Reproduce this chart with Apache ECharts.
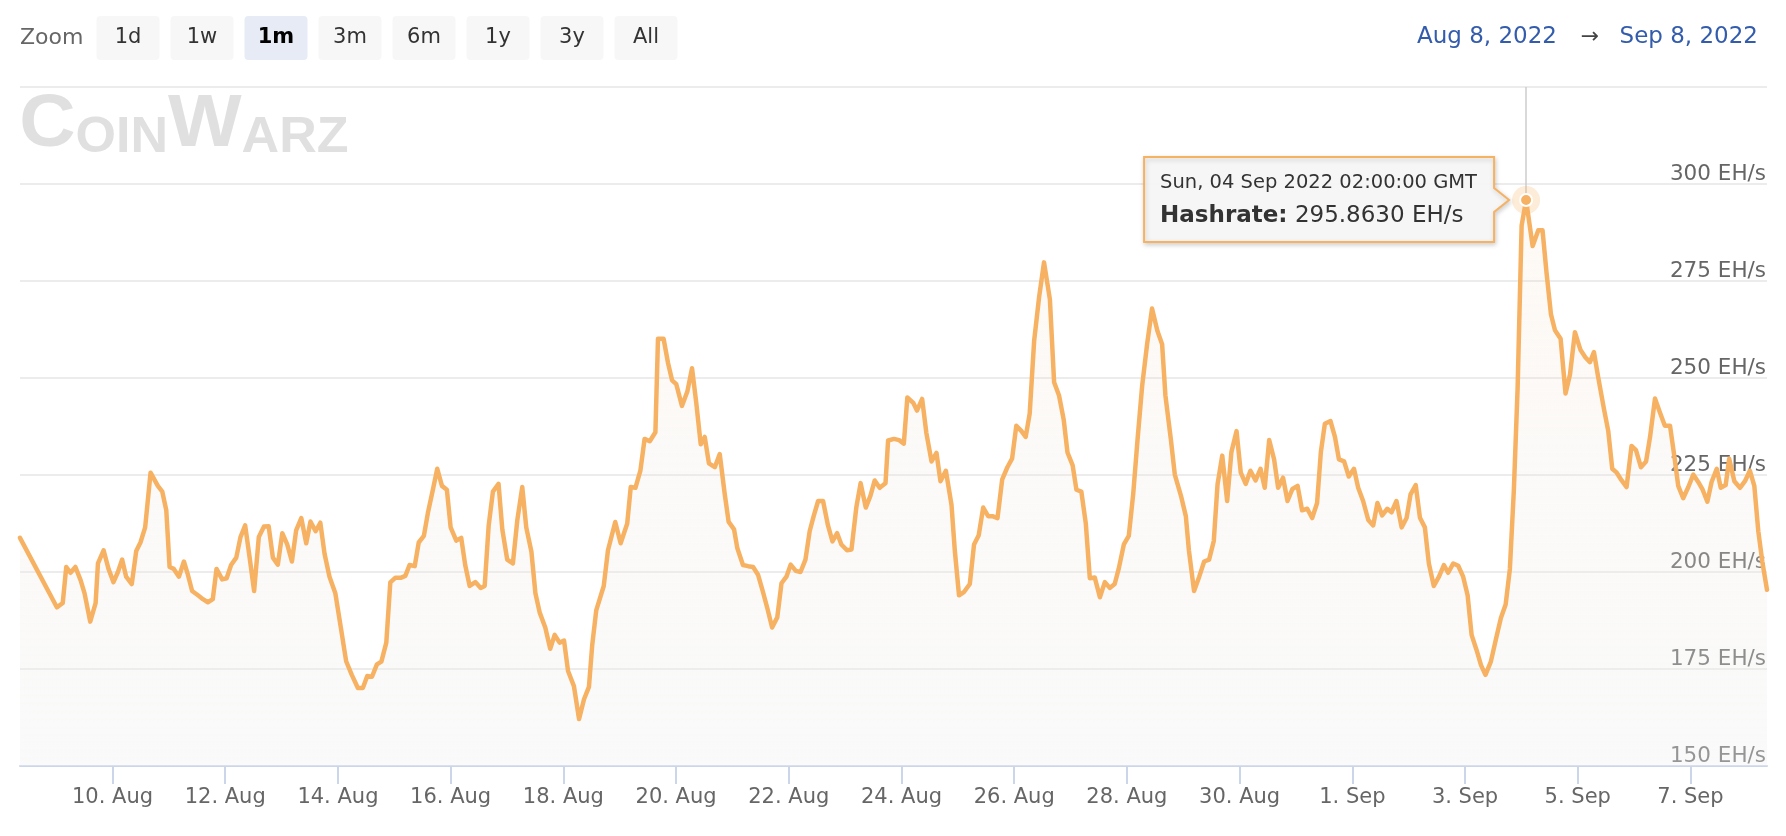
<!DOCTYPE html>
<html>
<head>
<meta charset="utf-8">
<script src="https://cdn.jsdelivr.net/npm/echarts@6/dist/echarts.min.js"></script>
<style>
html,body{margin:0;padding:0;background:#fff;}
#c{width:1786px;height:836px;}
</style>
</head>
<body>
<div id="c"></div>
<script>
// ---- data (hours after 2022-08-08 00:00 GMT, hashrate in EH/s) ----
const hours = [8.6,24.3,26.8,28.3,30.1,32.2,34.4,36.1,38.5,40.8,41.8,44.2,46.3,48.4,50.3,52.1,53.8,56.2,58.1,59.9,61.9,64.2,67.3,69.2,70.9,72.3,74.1,76.3,78.4,80.1,81.9,84.4,86.5,88.6,90.7,92.3,94.7,96.6,98.5,100.7,102.5,104.5,106.4,108.3,110.3,112.5,114.5,116.3,118.4,120.3,122.4,124.4,126.2,128.4,130.5,132.3,134.5,136.5,138.3,140.4,142.9,145.1,147.5,149.9,152.5,154.6,156.5,158.5,
160.6,162.5,164.6,166.3,168.4,170.7,172.7,174.5,176.7,178.4,180.6,182.3,184.5,186.3,188.3,190.4,192.0,194.4,196.5,198.2,200.1,202.5,204.8,206.5,208.2,210.0,212.4,214.0,216.1,218.5,220.4,222.5,224.2,226.4,228.1,229.9,232.3,234.4,236.3,238.4,240.3,242.0,244.5,246.7,248.8,250.9,252.3,254.0,257.2,259.0,262.1,264.4,267.2,268.7,270.7,272.8,274.6,276.8,279.2,280.3,282.7,284.6,286.3,288.1,290.5,292.8,294.8,296.6,298.5,300.2,302.0,304.5,
306.6,308.7,310.4,312.7,314.1,316.5,318.7,320.8,322.9,325.0,326.9,328.9,331.1,332.9,335.0,336.8,339.0,341.0,343.1,344.9,346.6,348.5,350.6,352.7,354.6,356.6,358.4,360.8,362.7,364.8,366.6,368.8,370.8,372.6,374.7,377.2,378.3,380.8,383.0,385.0,386.5,389.0,390.6,392.8,394.6,396.8,398.9,400.6,402.9,405.3,406.7,408.5,410.7,413.1,414.9,416.9,418.8,420.9,422.7,424.9,426.9,429.1,431.1,432.9,435.1,436.9,438.6,440.5,442.6,444.7,447.2,449.0,451.1,453.1,
454.7,456.9,458.5,460.6,462.5,464.2,466.3,468.5,470.6,472.7,474.8,476.5,478.7,480.8,482.7,484.5,486.5,488.6,490.7,493.0,495.0,496.4,498.7,500.4,503.0,505.1,506.4,508.6,510.8,512.9,515.0,517.0,518.6,520.6,522.7,524.5,526.7,528.5,530.6,532.6,534.8,536.9,538.7,540.6,542.7,544.4,546.5,548.4,550.5,552.7,554.6,556.8,558.9,561.0,562.6,564.3,566.7,568.6,570.3,572.5,574.5,576.7,578.5,580.6,582.8,584.9,586.7,588.7,590.9,592.7,594.8,597.0,599.1,600.8,603.0,
604.8,606.9,608.6,610.7,612.9,615.0,616.8,619.0,621.1,623.2,625.1,626.8,628.9,630.8,632.7,635.0,637.2,639.3,641.3,643.1,644.8,646.4,648.1,650.0,652.8,655.2,657.0,658.7,660.6,662.3,664.7,666.8,668.7,670.8,673.2,675.3,677.2,678.9,680.7,683.2,685.0,686.7,688.6,690.7,692.8,694.9,696.8,698.9,701.1,702.8,704.9,707.0,709.1,711.3,713.1,714.8,716.9,719.1,721.2,723.3,725.2,727.2,729.0,731.2,732.9,735.0,736.5,738.7,741.1,743.2,745.3,747.2,748.9,750.6,752.6];

const hashrate = [208.8,190.9,192.0,201.3,199.8,201.3,197.9,194.5,187.2,192.0,202.2,205.6,200.8,197.4,200.0,203.2,198.8,196.9,205.4,207.6,211.5,225.6,222.2,220.7,215.9,201.3,200.8,198.8,202.7,199.3,195.1,194.0,193.0,192.2,193.0,200.8,198.1,198.4,201.8,203.7,209.0,212.0,203.7,195.1,209.0,211.7,211.8,203.7,201.9,210.0,207.1,202.7,210.7,213.9,207.4,213.0,210.5,212.7,204.7,198.8,194.5,186.2,177.0,173.5,170.1,170.1,173.2,173.0,
176.2,176.9,181.8,197.3,198.5,198.5,199.0,201.8,201.5,207.6,209.3,215.2,221.4,226.6,222.2,221.2,211.5,208.1,208.8,201.8,196.4,197.4,195.9,196.4,212.0,220.7,222.7,211.0,203.2,202.2,213.4,221.9,211.5,205.2,194.5,189.6,185.7,180.2,183.8,181.8,182.3,174.5,170.6,162.1,167.2,170.4,181.2,190.1,196.4,205.6,212.9,207.4,212.5,221.9,221.7,226.1,234.3,233.7,236.0,260.1,260.1,253.8,249.4,248.4,242.8,246.5,252.5,243.6,232.9,234.8,228.0,227.0,
230.4,220.2,212.9,211.0,206.1,201.8,201.5,201.3,199.3,194.9,190.6,185.7,188.3,197.1,198.8,201.9,200.3,200.0,203.2,210.5,214.4,218.3,218.3,212.0,207.9,210.0,207.1,205.6,205.8,216.8,222.9,216.6,219.7,223.6,221.7,222.9,233.9,234.3,234.0,233.1,245.0,243.6,241.6,244.6,235.8,228.5,230.7,223.4,226.1,217.3,205.6,194.0,194.9,196.9,207.1,209.5,216.6,214.4,214.4,213.9,223.9,227.0,229.2,237.7,236.3,234.8,240.8,259.6,270.8,279.8,270.3,248.9,245.5,239.2,
230.8,227.5,221.2,220.7,212.5,198.4,198.6,193.5,197.4,195.9,196.9,200.8,207.1,209.3,220.2,233.9,248.0,258.7,267.9,262.1,258.7,245.5,234.3,225.1,219.7,214.4,205.6,195.1,198.8,202.7,203.2,208.0,222.6,230.0,218.3,230.9,236.3,225.6,222.7,226.1,223.6,226.6,221.7,234.0,229.0,221.7,224.3,218.3,221.4,222.2,215.9,216.3,213.9,217.8,230.9,238.2,238.9,234.8,229.0,228.5,224.6,226.6,221.7,218.3,213.4,212.0,217.8,214.6,216.3,215.4,218.3,211.5,213.9,220.0,222.4,
214.0,211.5,202.2,196.4,198.8,201.8,199.8,202.2,201.6,198.8,194.0,183.8,179.9,176.0,173.5,176.9,182.8,188.2,191.6,200.8,221.2,247.5,289.3,295.863,284.0,288.1,288.1,277.2,266.4,262.3,260.1,246.0,250.9,261.8,257.2,255.3,254.1,256.7,250.2,241.9,236.3,226.6,225.6,223.6,221.9,232.5,231.4,227.0,228.5,234.8,244.7,241.1,237.7,237.7,230.0,222.2,219.0,221.9,225.1,223.2,221.2,218.1,223.2,226.6,221.7,222.4,229.2,223.4,221.7,223.4,226.1,222.2,210.5,202.7,195.4];

const tickDates = ['2022-08-10','2022-08-12','2022-08-14','2022-08-16','2022-08-18','2022-08-20','2022-08-22','2022-08-24','2022-08-26','2022-08-28','2022-08-30','2022-09-01','2022-09-03','2022-09-05','2022-09-07'];
const monthNames = ['Jan','Feb','Mar','Apr','May','Jun','Jul','Aug','Sep','Oct','Nov','Dec'];
const yMin = 150, yMax = 325, yStep = 25;
const axisStartHour = 8.6, axisEndHour = 752.6;
const rangeButtons = ['1d','1w','1m','3m','6m','1y','3y','All'];
const selectedButton = '1m';
const rangeFrom = 'Aug 8, 2022', rangeTo = 'Sep 8, 2022';
const peak = {hour: 650.0, value: 295.863, header: 'Sun, 04 Sep 2022 02:00:00 GMT', name: 'Hashrate', unit: 'EH/s'};

// ---- build ----
const BASE = Date.UTC(2022, 7, 8);
const HOUR = 3600000;
const toMs = h => BASE + h * HOUR;
const seriesData = hours.map((h, i) => [toMs(h), hashrate[i]]);
const tickMs = tickDates.map(d => Date.parse(d + 'T00:00:00Z'));
const peakMs = toMs(peak.hour);
const FONT = '"DejaVu Sans", Verdana, sans-serif';
const ORANGE = '#f6b262';

const chart = echarts.init(document.getElementById('c'), null, {renderer: 'canvas'});

const option = {
  animation: false,
  grid: {left: 20, right: 19, top: 87, height: 679},
  xAxis: {
    type: 'value',
    min: toMs(axisStartHour),
    max: toMs(axisEndHour),
    axisLine: {show: true, onZero: false, lineStyle: {color: '#ccd6eb', width: 2}},
    axisTick: {show: true, customValues: tickMs, length: 18, lineStyle: {color: '#ccd6eb', width: 2}},
    axisLabel: {
      show: true,
      customValues: tickMs,
      formatter: v => { const d = new Date(v); return d.getUTCDate() + '. ' + monthNames[d.getUTCMonth()]; },
      color: '#666666', fontSize: 21, fontFamily: FONT, margin: 21
    },
    splitLine: {show: false}
  },
  yAxis: {
    type: 'value',
    position: 'right',
    min: yMin, max: yMax, interval: yStep,
    axisLine: {show: false},
    axisTick: {show: false},
    axisLabel: {
      inside: true, margin: 1,
      formatter: v => v === yMax ? '' : v + ' EH/s',
      color: '#666666', fontSize: 21.5, fontFamily: FONT,
      verticalAlign: 'bottom', lineHeight: 20
    },
    splitLine: {show: true, lineStyle: {color: '#e6e6e6', width: 1.5}}
  },
  series: [{
    type: 'line',
    data: seriesData,
    showSymbol: false,
    symbol: 'none',
    lineStyle: {color: ORANGE, width: 4.5, join: 'round', cap: 'round'},
    areaStyle: {
      origin: 'start',
      color: new echarts.graphic.LinearGradient(0, 0, 0, 1, [
        {offset: 0, color: 'rgba(240,200,160,0.12)'},
        {offset: 0.5, color: 'rgba(238,232,226,0.3)'},
        {offset: 1, color: 'rgba(240,240,240,0.5)'}
      ])
    },
    emphasis: {disabled: true},
    markLine: {
      silent: true, symbol: ['none', 'none'], label: {show: false},
      lineStyle: {color: '#cccccc', width: 1.5, type: 'solid'},
      emphasis: {disabled: true},
      data: [[{coord: [peakMs, peak.value]}, {coord: [peakMs, yMax]}]]
    },
    markPoint: {
      silent: true, label: {show: false},
      data: [
        {coord: [peakMs, peak.value], symbol: 'circle', symbolSize: 28, itemStyle: {color: 'rgba(246,178,98,0.25)'}},
        {coord: [peakMs, peak.value], symbol: 'circle', symbolSize: 12, itemStyle: {color: ORANGE, borderColor: '#ffffff', borderWidth: 2}}
      ]
    }
  }]
};
chart.setOption(option);

// ---- UI chrome: range selector, date range, watermark, tooltip ----
const g = [];
g.push({type: 'text', x: 20, y: 38, style: {text: 'Zoom', fill: '#666666', fontSize: 22, fontFamily: FONT, verticalAlign: 'middle', align: 'left'}});
rangeButtons.forEach((b, i) => {
  const sel = b === selectedButton;
  const x = 96.5 + 74 * i;
  g.push({type: 'rect', shape: {x: x, y: 16, width: 63, height: 44, r: 4}, style: {fill: sel ? '#e6ebf5' : '#f7f7f7'}});
  g.push({type: 'text', x: x + 31.5, y: 38, style: {text: b, fill: sel ? '#000000' : '#333333', fontSize: 21, fontWeight: sel ? 'bold' : 'normal', fontFamily: FONT, align: 'center', verticalAlign: 'middle'}});
});
g.push({type: 'text', x: 1557, y: 37, style: {text: rangeFrom, fill: '#335cad', fontSize: 23, fontFamily: FONT, align: 'right', verticalAlign: 'middle'}});
g.push({type: 'text', x: 1590, y: 37, style: {text: '→', fill: '#444444', fontSize: 22, fontFamily: FONT, align: 'center', verticalAlign: 'middle'}});
g.push({type: 'text', x: 1758, y: 37, style: {text: rangeTo, fill: '#335cad', fontSize: 23, fontFamily: FONT, align: 'right', verticalAlign: 'middle'}});

// watermark logo
g.push({type: 'text', x: 20, y: 163, scaleX: 1.04, originX: 20, z: 0, style: {
  text: '{a|C}{b|OIN}{a|W}{b|ARZ}', fill: '#e0e0e0', fontFamily: FONT, fontWeight: 'bold', align: 'left', verticalAlign: 'bottom',
  rich: {a: {fontSize: 75, fontWeight: 'bold', lineHeight: 62, verticalAlign: 'bottom', fill: '#e0e0e0'}, b: {fontSize: 50, fontWeight: 'bold', lineHeight: 48, verticalAlign: 'bottom', fill: '#e0e0e0'}}
}});

// tooltip callout anchored to the peak point
const p = chart.convertToPixel({seriesIndex: 0}, [peakMs, peak.value]);
const r = p[0] - 32, l = r - 350, t = p[1] - 43, bt = p[1] + 42, tip = p[0] - 17;
g.push({type: 'polygon', z: 100, shape: {points: [[l, t], [r, t], [r, p[1] - 12], [tip, p[1]], [r, p[1] + 12], [r, bt], [l, bt]]},
  style: {fill: 'rgba(247,247,247,0.96)', stroke: ORANGE, lineWidth: 2, shadowBlur: 5, shadowOffsetX: 1, shadowOffsetY: 2, shadowColor: 'rgba(0,0,0,0.18)'}});
g.push({type: 'text', z: 101, x: l + 16, y: t + 26, style: {text: peak.header, fill: '#333333', fontSize: 19.5, fontFamily: FONT, verticalAlign: 'middle', align: 'left'}});
g.push({type: 'text', z: 101, x: l + 16, y: t + 59, style: {
  text: '{b|' + peak.name + ':} ' + peak.value.toFixed(4) + ' ' + peak.unit,
  fill: '#333333', fontSize: 23, fontFamily: FONT, verticalAlign: 'middle', align: 'left',
  rich: {b: {fontWeight: 'bold', fontSize: 23, fontFamily: FONT, fill: '#333333'}}
}});

chart.setOption({graphic: g});
</script>
</body>
</html>
